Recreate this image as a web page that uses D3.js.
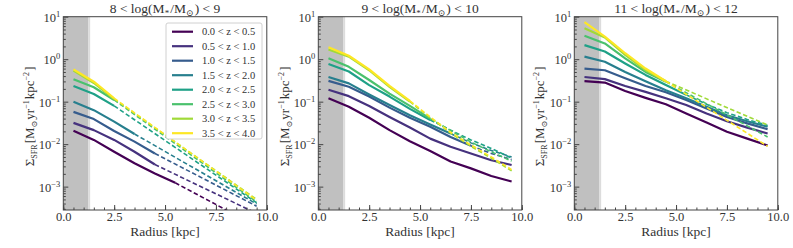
<!DOCTYPE html>
<html>
<head>
<meta charset="utf-8">
<script src="https://cdn.jsdelivr.net/npm/d3@7"></script>
<style>
  body { margin: 0; background: #fff; }
  text { font-family: "Liberation Serif", "DejaVu Serif", serif; fill: #333; }
</style>
</head>
<body>
<div id="chart"></div>
<script>
// radius bin centres (kpc)
var radii = [0.5, 1.5, 2.5, 3.5, 4.5, 5.5, 6.5, 7.5, 8.5, 9.5];

var zLabels = ['0.0 < z < 0.5', '0.5 < z < 1.0', '1.0 < z < 1.5', '1.5 < z < 2.0',
               '2.0 < z < 2.5', '2.5 < z < 3.0', '3.0 < z < 3.5', '3.5 < z < 4.0'];

var massTitles = [['8', '9'], ['9', '10'], ['11', '12']];

// log10 Sigma_SFR; null = not drawn at that radius
var logSfrLow = [
  [-1.685, -1.90, -2.18, -2.45, -2.69, -2.91, null, null, null, -3.93],
  [-1.50, -1.67, -1.90, -2.18, -2.48, null, null, null, null, -3.63],
  [-1.24, -1.41, -1.69, -1.94, -2.22, null, null, null, null, -3.46],
  [-1.00, -1.20, -1.47, -1.76, null, null, null, null, null, -3.41],
  [-0.63, -0.82, -1.10, null, null, null, null, null, null, -3.38],
  [-0.47, -0.66, -0.96, null, null, null, null, null, null, -3.36],
  [-0.27, -0.56, -0.94, null, null, null, null, null, null, -3.30],
  [-0.24, -0.53, -0.92, null, null, null, null, null, null, -3.32]
];
var solidLow = [6, 5, 5, 4, 3, 3, 3, 3];

var logSfrMid = [
  [-0.92, -1.12, -1.38, -1.67, -1.93, -2.16, -2.41, -2.57, -2.75, -2.88],
  [-0.72, -0.87, -1.10, -1.36, -1.61, -1.87, -2.06, -2.22, -2.38, -2.49],
  [-0.51, -0.65, -0.88, -1.14, -1.38, -1.59, -1.83, -2.04, -2.22, -2.36],
  [-0.42, -0.57, -0.83, -1.08, -1.32, -1.54, -1.75, -1.97, -2.15, -2.30],
  [-0.115, -0.29, -0.61, -0.88, -1.17, -1.43, -1.67, -1.90, -2.10, -2.33],
  [0.02, -0.18, -0.49, -0.81, -1.10, -1.40, -1.68, -1.95, -2.18, -2.40],
  [0.23, 0.06, -0.26, -0.65, -1.00, -1.38, -1.74, -2.05, -2.33, -2.63],
  [0.28, 0.08, -0.24, -0.63, -0.98, -1.36, -1.72, -2.02, -2.30, -2.60]
];
var solidMid = [10, 10, 8, 7, 6, 6, 5, 5];

var logSfrHigh = [
  [-0.515, -0.55, -0.75, -0.91, -1.06, -1.28, -1.49, -1.71, -1.87, -2.03],
  [-0.42, -0.47, -0.63, -0.77, -0.92, -1.08, -1.28, -1.46, -1.61, -1.75],
  [-0.22, -0.26, -0.45, -0.63, -0.78, -0.96, -1.16, -1.36, -1.51, -1.65],
  [0.06, -0.06, -0.30, -0.52, -0.73, -0.92, -1.12, -1.32, -1.46, -1.59],
  [0.33, 0.18, -0.10, -0.37, -0.61, -0.84, -1.06, -1.26, -1.42, -1.56],
  [0.55, 0.37, 0.02, -0.30, -0.53, null, null, null, null, -1.83],
  [0.73, 0.51, 0.10, -0.26, -0.52, null, null, null, null, -1.55],
  [0.87, 0.53, 0.14, -0.22, -0.52, null, null, null, null, -2.05]
];
var solidHigh = [10, 10, 10, 10, 6, 5, 5, 5];

var xTicks = [0, 2.5, 5, 7.5, 10];
var yDecades = [-3, -2, -1, 0, 1];
var innerMaskKpc = 1.22;

var panels = [
  {left: 63.3, title: massTitles[0], data: logSfrLow, solid: solidLow, labelX: 34, legend: true},
  {left: 318.3, title: massTitles[1], data: logSfrMid, solid: solidMid, labelX: 289, legend: false},
  {left: 574.3, title: massTitles[2], data: logSfrHigh, solid: solidHigh, labelX: 544, legend: false}
];

var W = 793, H = 248,
    plotTop = 16.7, plotBottom = 210, pw = 203.5, ph = plotBottom - plotTop;

var colors = d3.range(8).map(function (i) { return d3.interpolateViridis(i / 7); });

var svg = d3.select('#chart').append('svg')
    .attr('width', W)
    .attr('height', H);
var defs = svg.append('defs');

var x = d3.scaleLinear().domain([0, 10]).range([0, pw]);
var y = d3.scaleLog().domain([Math.pow(10, -3.55), 10]).range([ph, 0]);

var line = d3.line()
  .x(function (d) { return x(d[0]); })
  .y(function (d) { return y(Math.pow(10, d[1])); });

function addSub(t, txt, size) {
  t.append('tspan').attr('dy', 3).attr('font-size', size).text(txt);
  t.append('tspan').attr('dy', -3).text('\u200a');
}
function addSup(t, txt, size) {
  t.append('tspan').attr('dy', -5).attr('font-size', size).text(txt);
  t.append('tspan').attr('dy', 5).text('\u200a');
}

panels.forEach(function (p, pi) {
  var g = svg.append('g').attr('transform', 'translate(' + p.left + ',' + plotTop + ')');

  defs.append('clipPath').attr('id', 'clip' + pi)
    .append('rect').attr('width', pw).attr('height', ph);

  // masked inner region
  g.append('rect')
    .attr('x', 0).attr('y', 0)
    .attr('width', x(innerMaskKpc)).attr('height', ph)
    .attr('fill', '#c0c0c0');
  g.append('rect')
    .attr('x', x(innerMaskKpc)).attr('y', 0)
    .attr('width', x(1.32) - x(innerMaskKpc)).attr('height', ph)
    .attr('fill', '#dcdcdc');

  var lines = g.append('g').attr('clip-path', 'url(#clip' + pi + ')');
  p.data.forEach(function (vals, si) {
    var pts = radii.map(function (r, i) { return [r, vals[i]]; })
      .filter(function (d) { return d[1] !== null; });
    var nSolid = p.solid[si];
    var solidPts = pts.slice(0, nSolid);
    var dashPts = pts.slice(nSolid - 1);
    lines.append('path')
      .attr('d', line(solidPts))
      .attr('fill', 'none')
      .attr('stroke', colors[si])
      .attr('stroke-width', 2.2)
      .attr('stroke-linejoin', 'round');
    if (dashPts.length > 1) {
      lines.append('path')
        .attr('d', line(dashPts))
        .attr('fill', 'none')
        .attr('stroke', colors[si])
        .attr('stroke-width', 1.6)
        .attr('stroke-dasharray', '4.5,2.5');
    }
  });

  // ticks, pointing inward
  var xMajor = d3.axisBottom(x).tickValues(xTicks).tickSize(-5)
    .tickFormat(d3.format('.1f')).tickPadding(2.5);
  var xMinor = d3.axisBottom(x).tickValues(d3.range(0, 10.01, 0.5)).tickSize(-2.5).tickFormat('');
  var gxm = g.append('g').attr('transform', 'translate(0,' + ph + ')').call(xMinor);
  var gx = g.append('g').attr('transform', 'translate(0,' + ph + ')').call(xMajor);
  [gx, gxm].forEach(function (a) {
    a.select('.domain').remove();
    a.selectAll('line').attr('stroke', '#444');
  });
  gx.selectAll('text').attr('font-size', 12.5).style('font-family', '"Liberation Serif", serif').attr('fill', '#333');

  var minors = [];
  yDecades.forEach(function (e) {
    for (var k = 2; k < 10; k++) {
      var v = k * Math.pow(10, e - 1);
      if (v >= y.domain()[0] && v <= 10) minors.push(v);
    }
  });
  var yMinor = d3.axisLeft(y).tickValues(minors).tickSize(-2.5).tickFormat('');
  var yMajor = d3.axisLeft(y).tickValues(yDecades.map(function (e) { return Math.pow(10, e); }))
    .tickSize(-5).tickFormat('');
  var gym = g.append('g').call(yMinor);
  var gy = g.append('g').call(yMajor);
  [gy, gym].forEach(function (a) {
    a.select('.domain').remove();
    a.selectAll('line').attr('stroke', '#444');
  });
  yDecades.forEach(function (e) {
    var t = g.append('text')
      .attr('x', -3).attr('y', y(Math.pow(10, e)) + 5)
      .attr('text-anchor', 'end')
      .attr('font-size', 12.5);
    t.append('tspan').text('10');
    t.append('tspan').attr('dy', -5).attr('font-size', 8.5).text(e < 0 ? '\u2212' + (-e) : String(e));
  });

  // frame
  g.append('rect')
    .attr('width', pw).attr('height', ph)
    .attr('fill', 'none')
    .attr('stroke', '#444')
    .attr('stroke-width', 1);

  // title
  var tt = svg.append('text')
    .attr('x', p.left + pw / 2).attr('y', 13)
    .attr('text-anchor', 'middle')
    .attr('font-size', 13.5);
  tt.append('tspan').text(p.title[0] + ' < log(M');
  addSub(tt, '*', 9);
  tt.append('tspan').text('/M');
  addSub(tt, '\u2299', 9);
  tt.append('tspan').text(') < ' + p.title[1]);

  // x label
  svg.append('text')
    .attr('x', p.left + pw / 2).attr('y', 236)
    .attr('text-anchor', 'middle')
    .attr('font-size', 13.5)
    .text('Radius [kpc]');

  // y label
  var yl = svg.append('text')
    .attr('transform', 'translate(' + p.labelX + ',' + (plotTop + ph / 2 + 3) + ') rotate(-90)')
    .attr('text-anchor', 'middle')
    .attr('font-size', 13);
  yl.append('tspan').text('\u03a3');
  addSub(yl, 'SFR', 8);
  yl.append('tspan').text('[M');
  addSub(yl, '\u2299', 8);
  yl.append('tspan').text('yr');
  addSup(yl, '\u22121', 8);
  yl.append('tspan').text('kpc');
  addSup(yl, '\u22122', 8);
  yl.append('tspan').text(']');

  if (p.legend) {
    var lg = g.append('g');
    lg.append('rect')
      .attr('x', 166 - p.left).attr('y', 23 - plotTop)
      .attr('width', 96).attr('height', 116)
      .attr('rx', 2)
      .attr('fill', '#fff')
      .attr('stroke', '#d0d0d0');
    zLabels.forEach(function (lab, i) {
      var cy = 31.7 - plotTop + i * 14.5;
      lg.append('line')
        .attr('x1', 172 - p.left).attr('x2', 193 - p.left)
        .attr('y1', cy).attr('y2', cy)
        .attr('stroke', colors[i])
        .attr('stroke-width', 2.2);
      lg.append('text')
        .attr('x', 202 - p.left).attr('y', cy + 3.5)
        .attr('font-size', 10.5)
        .text(lab);
    });
  }
});
</script>
</body>
</html>
